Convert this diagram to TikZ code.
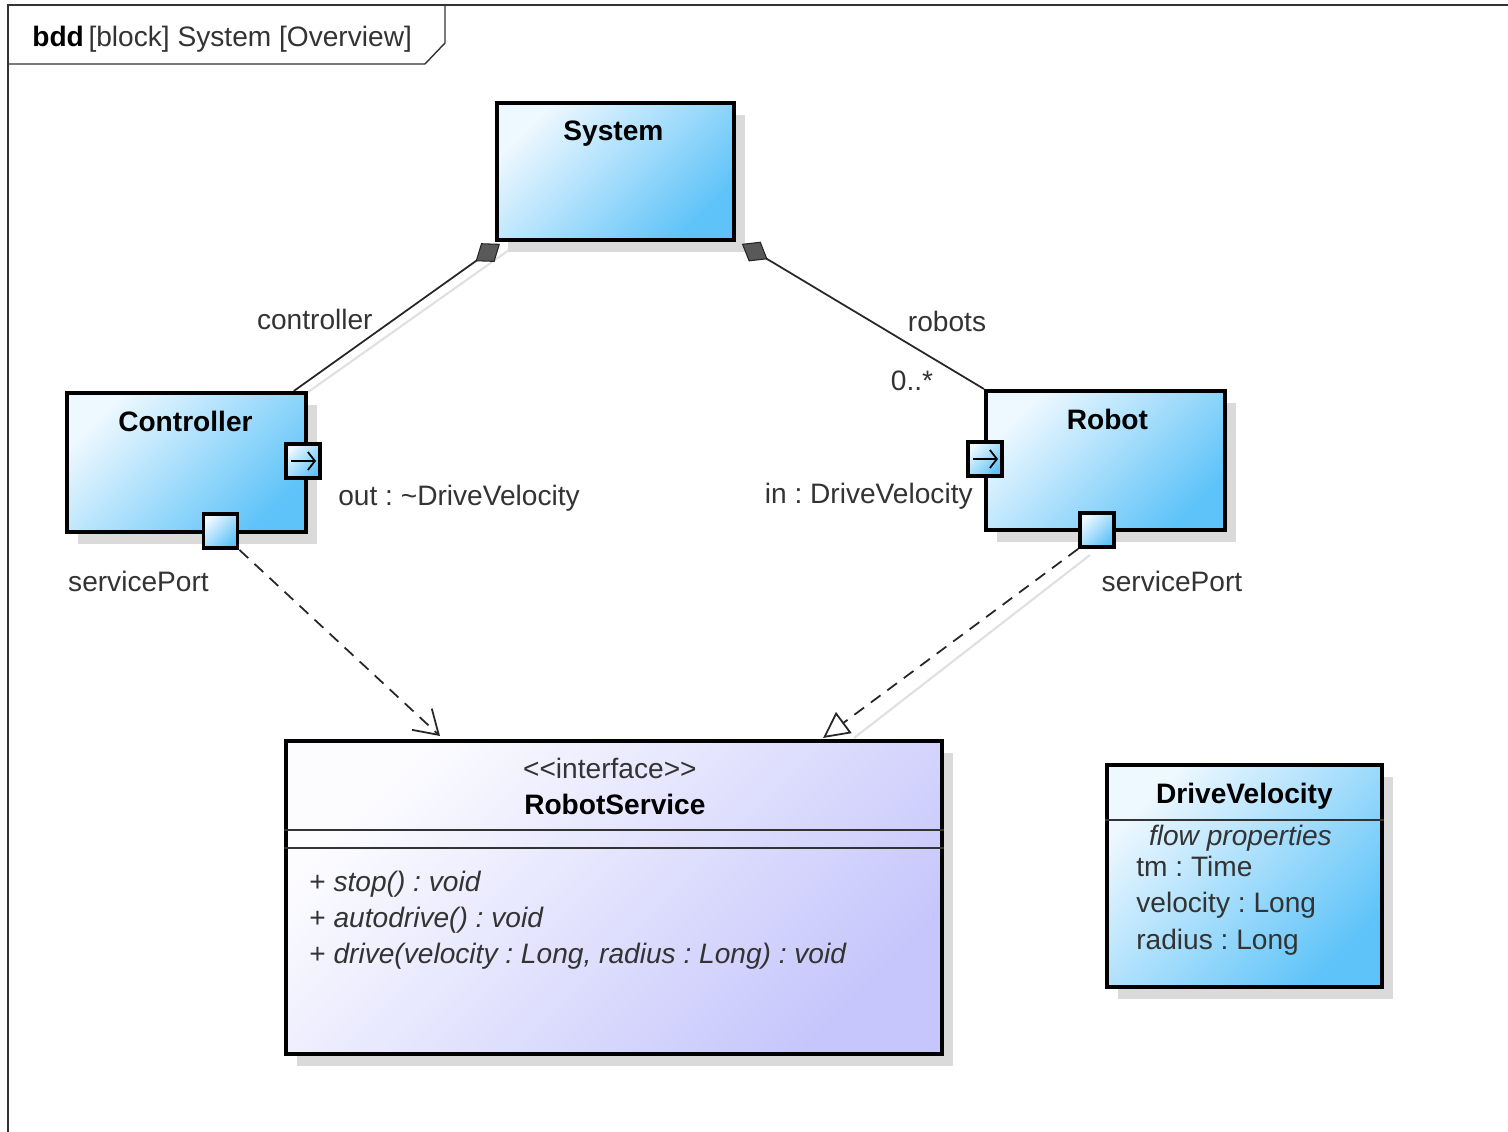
\documentclass[tikz,border=0pt]{standalone}
\usepackage{fontspec}
\setmainfont{Liberation Sans}
\usetikzlibrary{arrows.meta,shadows,calc}

\definecolor{blkA}{HTML}{EEF8FF}
\definecolor{blkB}{HTML}{5EC3F8}
\definecolor{ifA}{HTML}{FCFCFF}
\definecolor{ifB}{HTML}{C6C6FC}
\definecolor{ink}{HTML}{333333}
\definecolor{shade}{HTML}{DADADA}

\begin{document}
\frenchspacing
\begin{tikzpicture}[x=0.02cm,y=-0.02cm,
  font=\fontsize{16}{19}\selectfont\frenchspacing,
  frameline/.style={draw=ink, line width=0.8pt},
  block/.style={draw=black, line width=2.2pt, anchor=north west, inner sep=0pt,
    top color=blkA, bottom color=blkB, shading angle=45,
    general shadow={fill=shade, shadow xshift=0.22cm, shadow yshift=-0.24cm}},
  iface/.style={block, top color=ifA, bottom color=ifB, shading angle=45},
  portbox/.style={draw=black, line width=2.2pt, inner sep=0pt, minimum size=0.68cm,
    top color=blkA, bottom color=blkB, shading angle=45},
  flowarrow/.style={draw=black, line width=1pt, -{Straight Barb[length=0.14cm,width=0.36cm]}},
  title/.style={inner sep=0pt, font=\fontsize{16}{19}\selectfont\bfseries, text=black,
    text height=0.72em, text depth=0pt, yshift=-0.07cm},
  lbl/.style={inner sep=0pt, text=ink, text height=0.72em, text depth=0pt, yshift=-0.07cm},
  member/.style={lbl, anchor=west},
  compart/.style={draw=ink, line width=1pt},
  comp/.style={draw=black!85, line width=1pt,
    {Diamond[length=0.6cm,width=0.46cm,fill=black!65,line width=0.6pt]}-},
  lineshadow/.style={draw=black!12, line width=1.2pt},
  usage/.style={draw=black!85, line width=1pt, dash pattern=on 0.24cm off 0.17cm,
    -{Straight Barb[length=0.46cm,width=0.58cm,line width=1pt]}},
  realize/.style={draw=black!85, line width=1pt, dash pattern=on 0.24cm off 0.17cm,
    -{Triangle[open,length=0.52cm,width=0.52cm,line width=1pt,fill=white]}}]

\useasboundingbox (0,0) rectangle (1508,1132);

% diagram frame and its name tab
\draw[frameline] (8,1140) -- (8,5) -- (1515,5);
\draw[frameline] (8,64) -- (425,64) -- (445,43) -- (445,5);
\node[lbl, anchor=west] (frametitle) at (32,37) {\textbf{\color{black}bdd}\,[block] System [Overview]};

% corner positions of the blocks
\path (495,101) coordinate (sysC)
      (65,391) coordinate (ctrlC)
      (984,389) coordinate (robC)
      (284,739) coordinate (rsC)
      (1105,763) coordinate (dvC);

% shadow of the controller association
\path (sysC) ++(0,137) coordinate (sysSW);
\draw[lineshadow] ($(sysSW)+(14,12)$) -- ($(ctrlC)+(236,6)$);

% blocks
\node[block, minimum width=4.74cm, minimum height=2.74cm] (sys) at (sysC) {};
\node[block, minimum width=4.78cm, minimum height=2.78cm] (ctrl) at (ctrlC) {};
\node[block, minimum width=4.78cm, minimum height=2.78cm] (rob) at (robC) {};
\node[iface, minimum width=13.12cm, minimum height=6.26cm] (rs) at (rsC) {};
\node[block, minimum width=5.50cm, minimum height=4.44cm] (dv) at (dvC) {};

% composition associations
\draw[comp] ($(sys.south west)+(5,2)$) -- ($(ctrl.north east)+(-14,0)$);
\draw[comp] ($(sys.south east)+(6,2)$) -- (rob.north west);
\node[lbl] (lctrl) at ($(ctrl.north east)+(7,-71)$) {controller};
\node[lbl] (lrob) at ($(rob.north west)+(-37,-67)$) {robots};
\node[lbl] (lmult) at ($(rob.north west)+(-72,-8)$) {0..*};

% titles
\node[title] (sysT) at ($(sys.north)+(-2,30)$) {System};
\node[title] (ctrlT) at ($(ctrl.north)+(-1,31)$) {Controller};
\node[title] (robT) at ($(rob.north)+(2,31)$) {Robot};

% ports
\node[portbox] (cout) at (303,461) {};
\node[portbox] (csp) at (220.5,531) {};
\node[portbox] (rin) at (985,459) {};
\node[portbox] (rsp) at (1097,530) {};
\draw[flowarrow] ($(cout.center)+(-12,0)$) -- ($(cout.center)+(13,0)$);
\draw[flowarrow] ($(rin.center)+(-12,0)$) -- ($(rin.center)+(13,0)$);
\node[lbl, anchor=west] (lout) at ($(cout.center)+(35,35)$) {out : \textasciitilde DriveVelocity};
\node[lbl, anchor=east] (lin) at ($(rin.center)+(-12,35)$) {in : DriveVelocity};
\node[lbl] (lcsp) at ($(csp.center)+(-82,51)$) {servicePort};
\node[lbl] (lrsp) at ($(rsp.center)+(75,52)$) {servicePort};

% usage and realization dependencies
\draw[lineshadow] ($(rsp.south west)+(12,6)$) -- ($(rs.north west)+(570,-1)$);
\draw[usage] (csp.south east) -- ($(rs.north west)+(156,-3)$);
\draw[realize] (rsp.south west) -- ($(rs.north west)+(539,-1)$);

% interface RobotService
\draw[compart] ($(rs.north west)+(0,91)$) -- ($(rs.north east)+(0,91)$);
\draw[compart] ($(rs.north west)+(0,109)$) -- ($(rs.north east)+(0,109)$);
\node[lbl] (rsst) at ($(rs.north)+(-4,30)$) {<{}<interface>{}>};
\node[title] (rsT) at ($(rs.north)+(1,66)$) {RobotService};
\node[member] (op1) at ($(rs.north west)+(25,143)$) {+ \textit{stop() : void}};
\node[member] (op2) at ($(rs.north west)+(25,179)$) {+ \textit{autodrive() : void}};
\node[member] (op3) at ($(rs.north west)+(25,215)$) {+ \textit{drive(velocity : Long, radius : Long) : void}};

% value type DriveVelocity
\draw[compart] ($(dv.north west)+(0,57)$) -- ($(dv.north east)+(0,57)$);
\node[title] (dvT) at ($(dv.north)+(0,31)$) {DriveVelocity};
\node[lbl] (dvfp) at ($(dv.north)+(-4,73)$) {\textit{flow properties}};
\node[member] (dv1) at ($(dv.north west)+(31,104)$) {tm : Time};
\node[member] (dv2) at ($(dv.north west)+(31,140)$) {velocity : Long};
\node[member] (dv3) at ($(dv.north west)+(31,177)$) {radius : Long};
\end{tikzpicture}
\end{document}
